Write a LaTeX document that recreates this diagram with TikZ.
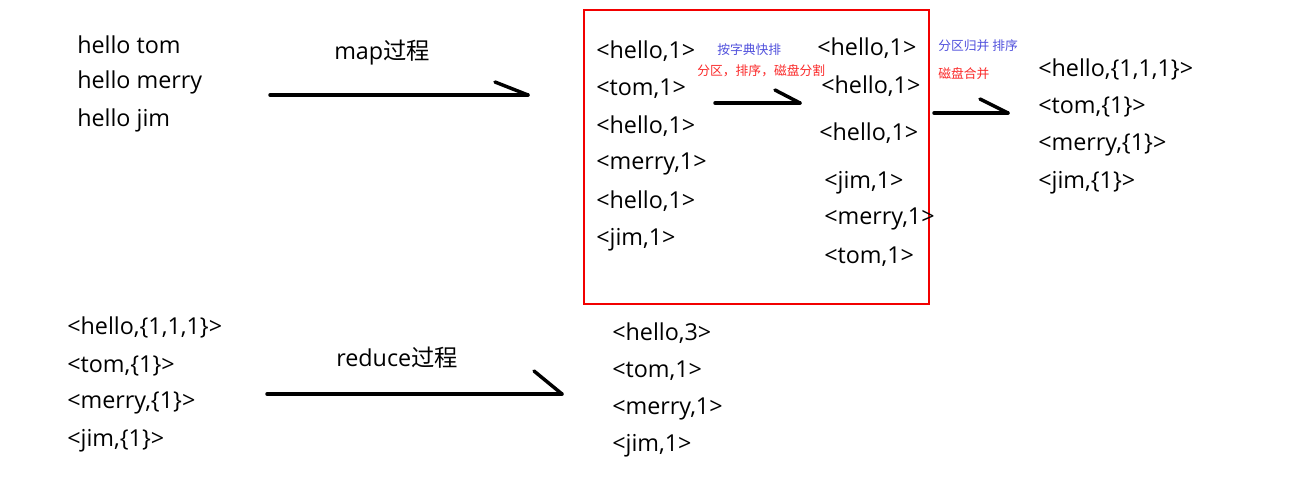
\documentclass[tikz,border=0pt]{standalone}
\usepackage{fontspec}
\setmainfont{Open Sans}
\newfontfamily\cjk{Noto Sans CJK SC}
\definecolor{notblue}{RGB}{80,80,220}
\definecolor{notred}{RGB}{250,40,40}
\begin{document}
\begin{tikzpicture}[x=0.75pt,y=-0.75pt,
  lbl/.style={anchor=west,inner sep=0pt,yshift=-2pt,font=\fontsize{17.5}{20}\selectfont},
  note/.style={anchor=west,inner sep=0pt,font=\cjk\fontsize{9.6}{11}\selectfont},
  bluenote/.style={note,text=notblue},
  rednote/.style={note,text=notred},
  stroke/.style={line width=2.6pt,line cap=round,black},
  frame/.style={draw=red!95!black,line width=1.3pt}]
\useasboundingbox (0,0) rectangle (1297,500);
% input text
\node[lbl] (in1) at (77,42) {hello tom};
\node[lbl] (in2) at (77,80) {hello merry};
\node[lbl] (in3) at (77,118) {hello jim};
% map arrow
\node[lbl] (maplbl) at (334,50) {map{\cjk 过程}};
\coordinate (m1) at (270,95);
\coordinate (m2) at (528,95);
\coordinate (m3) at (495,82);
\draw[stroke] (m1) -- (m2);
\draw[stroke] (m3) -- (m2);
% red frame
\node[frame,minimum width=345*0.75pt,minimum height=294*0.75pt,anchor=north west,inner sep=0pt] (box) at (583,9) {};
\node[lbl] (a1) at (596,48) {<hello,1>};
\node[lbl] (a2) at (596,86) {<tom,1>};
\node[lbl] (a3) at (596,123) {<hello,1>};
\node[lbl] (a4) at (596,161) {<merry,1>};
\node[lbl] (a5) at (596,198) {<hello,1>};
\node[lbl] (a6) at (596,237) {<jim,1>};
\node[bluenote] (n1) at (717,50) {按字典快排};
\node[rednote] (n2) at (697,71) {分区，排序，磁盘分割};
\coordinate (s1) at (715,103);
\coordinate (s2) at (800,103);
\coordinate (s3) at (775,90);
\draw[stroke] (s1) -- (s2);
\draw[stroke] (s3) -- (s2);
\node[lbl] (b1) at (817,45) {<hello,1>};
\node[lbl] (b2) at (821,83) {<hello,1>};
\node[lbl] (b3) at (819,130) {<hello,1>};
\node[lbl] (b4) at (824,180) {<jim,1>};
\node[lbl] (b5) at (824,216) {<merry,1>};
\node[lbl] (b6) at (824,254) {<tom,1>};
\node[bluenote] (n3) at (938,46) {分区归并 排序};
\node[rednote] (n4) at (938,74) {磁盘合并};
\coordinate (t1) at (934,113);
\coordinate (t2) at (1008,113);
\coordinate (t3) at (980,99);
\draw[stroke] (t1) -- (t2);
\draw[stroke] (t3) -- (t2);
\node[lbl] (c1) at (1038,67) {<hello,\{1,1,1\}>};
\node[lbl] (c2) at (1038,104) {<tom,\{1\}>};
\node[lbl] (c3) at (1038,142) {<merry,\{1\}>};
\node[lbl] (c4) at (1038,180) {<jim,\{1\}>};
% reduce
\node[lbl] (d1) at (67,325) {<hello,\{1,1,1\}>};
\node[lbl] (d2) at (67,363) {<tom,\{1\}>};
\node[lbl] (d3) at (67,400) {<merry,\{1\}>};
\node[lbl] (d4) at (67,438) {<jim,\{1\}>};
\node[lbl] (redlbl) at (336,355) {reduce{\cjk 过程}};
\coordinate (r1) at (267,394);
\coordinate (r2) at (562,394);
\coordinate (r3) at (534,371);
\draw[stroke] (r1) -- (r2);
\draw[stroke] (r3) -- (r2);
\node[lbl] (e1) at (612,330) {<hello,3>};
\node[lbl] (e2) at (612,368) {<tom,1>};
\node[lbl] (e3) at (612,406) {<merry,1>};
\node[lbl] (e4) at (612,443) {<jim,1>};
\end{tikzpicture}
\end{document}
